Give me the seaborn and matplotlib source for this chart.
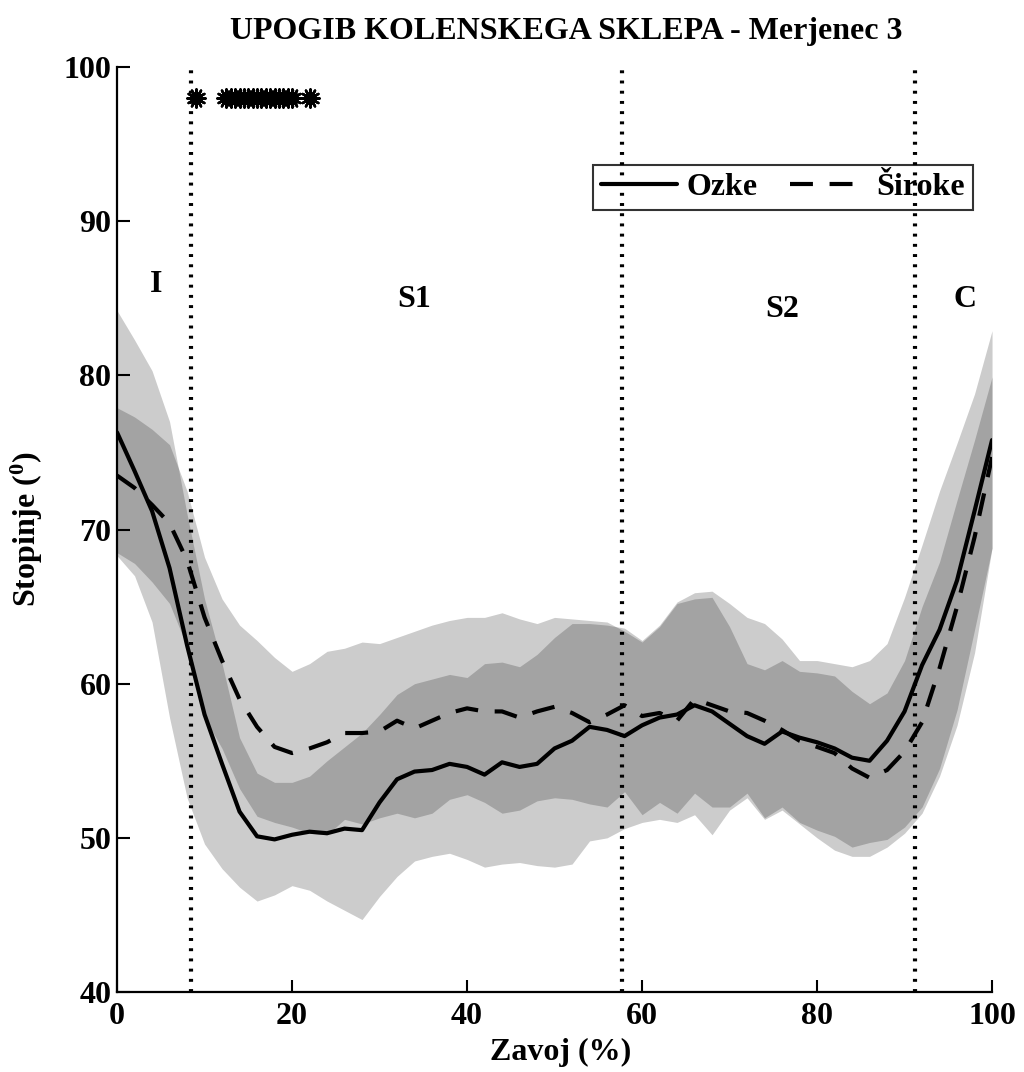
import numpy as np
import pandas as pd
import matplotlib
matplotlib.use("Agg")
import matplotlib.pyplot as plt
from matplotlib.lines import Line2D
import seaborn as sns

sns.set_theme(style="ticks", rc={
    "axes.edgecolor": "black", "text.color": "black", "axes.labelcolor": "black",
    "xtick.color": "black", "ytick.color": "black",
})
plt.rcParams["font.family"] = ["Liberation Serif", "DejaVu Serif"]
plt.rcParams["font.weight"] = "bold"
plt.rcParams["mathtext.fontset"] = "custom"
plt.rcParams["mathtext.rm"] = "Liberation Serif:bold"
plt.rcParams["mathtext.it"] = "Liberation Serif:bold"
plt.rcParams["mathtext.bf"] = "Liberation Serif:bold"

# gait cycle (%) sampling grid
cycle = np.arange(0, 101, 2)

# mean knee flexion (degrees)
ozke_mean = [76.3, 73.8, 71.2, 67.5, 62.5, 58.0, 54.8, 51.7, 50.1, 49.9,
             50.2, 50.4, 50.3, 50.6, 50.5, 52.3, 53.8, 54.3, 54.4, 54.8,
             54.6, 54.1, 54.9, 54.6, 54.8, 55.8, 56.3, 57.2, 57.0, 56.6,
             57.3, 57.8, 58.0, 58.6, 58.2, 57.4, 56.6, 56.1, 56.9, 56.5,
             56.2, 55.8, 55.2, 55.0, 56.3, 58.2, 61.2, 63.5, 66.7, 71.2,
             75.8]
siroke_mean = [73.5, 72.7, 71.6, 70.4, 68.0, 64.3, 61.5, 59.0, 57.2, 55.9,
               55.5, 55.8, 56.2, 56.8, 56.8, 56.9, 57.6, 57.1, 57.6, 58.1,
               58.4, 58.2, 58.2, 57.8, 58.2, 58.5, 58.1, 57.5, 58.0, 58.6,
               57.9, 58.1, 57.6, 59.0, 58.6, 58.2, 58.1, 57.6, 57.0, 56.3,
               55.9, 55.5, 54.5, 53.9, 54.4, 55.6, 57.5, 61.0, 65.0, 69.5,
               74.7]

# +/- one standard deviation envelopes
ozke_hi = [84.2, 82.3, 80.3, 77.0, 71.0, 65.5, 61.3, 56.5, 54.2, 53.6,
           53.6, 54.0, 55.0, 55.9, 56.8, 58.0, 59.3, 60.0, 60.3, 60.6,
           60.4, 61.3, 61.4, 61.1, 61.9, 63.0, 63.9, 63.9, 63.8, 63.6,
           62.8, 63.8, 65.3, 65.9, 66.0, 65.2, 64.3, 63.9, 62.9, 61.5,
           61.5, 61.3, 61.1, 61.5, 62.6, 65.6, 69.0, 72.5, 75.6, 78.8,
           82.9]
ozke_lo = [68.3, 67.0, 64.0, 57.8, 52.6, 49.6, 48.0, 46.8, 45.9, 46.3,
           46.9, 46.6, 45.9, 45.3, 44.7, 46.2, 47.5, 48.5, 48.8, 49.0,
           48.6, 48.1, 48.3, 48.4, 48.2, 48.1, 48.3, 49.8, 50.0, 50.6,
           51.0, 51.2, 51.0, 51.5, 50.2, 51.8, 52.6, 51.2, 51.8, 50.9,
           50.0, 49.2, 48.8, 48.8, 49.4, 50.3, 51.6, 54.0, 57.3, 62.0,
           68.8]
siroke_hi = [77.9, 77.3, 76.5, 75.5, 72.5, 68.2, 65.5, 63.8, 62.8, 61.7,
             60.8, 61.3, 62.1, 62.3, 62.7, 62.6, 63.0, 63.4, 63.8, 64.1,
             64.3, 64.3, 64.6, 64.2, 63.9, 64.3, 64.2, 64.1, 64.0, 63.4,
             62.7, 63.7, 65.2, 65.5, 65.6, 63.7, 61.3, 60.9, 61.5, 60.8,
             60.7, 60.5, 59.5, 58.7, 59.4, 61.5, 65.0, 67.9, 71.9, 75.8,
             79.9]
siroke_lo = [68.5, 67.8, 66.6, 65.2, 62.4, 57.8, 55.8, 53.2, 51.4, 51.0,
             50.7, 50.3, 50.2, 51.2, 50.9, 51.3, 51.6, 51.3, 51.6, 52.5,
             52.8, 52.3, 51.6, 51.8, 52.4, 52.6, 52.5, 52.2, 52.0, 53.0,
             51.5, 52.3, 51.6, 52.9, 52.0, 52.0, 52.9, 51.3, 52.0, 51.0,
             50.5, 50.1, 49.4, 49.7, 49.9, 50.7, 52.0, 54.5, 58.3, 63.5,
             68.8]

# phase boundaries and names
phase_bounds = [8.5, 57.7, 91.2]
phase_names = ["I", "S1", "S2", "C"]
phase_name_x = [4.5, 34.0, 76.0, 96.9]
phase_name_y = [85.9, 84.9, 84.3, 84.9]

# cycle points with a significant difference between groups
signif_x = [9.0, 12.5, 13.0, 13.5, 14.0, 14.5, 15.0, 15.5, 16.0, 16.5,
            17.0, 17.5, 18.0, 18.5, 19.0, 19.5, 20.0, 22.0]
signif_level = 98

groups = ["Ozke", "Široke"]
dash_pattern = (5.5, 4)

long_df = pd.DataFrame({
    "cycle": np.concatenate([cycle, cycle]),
    "angle": np.concatenate([ozke_mean, siroke_mean]),
    "group": np.repeat(groups, len(cycle)),
})

fig = plt.figure(figsize=(10.24, 10.72), dpi=100)
ax = fig.add_axes([0.1143, 0.0746, 0.8545, 0.8629])

ax.fill_between(cycle, ozke_lo, ozke_hi, color="black", alpha=0.2, lw=0, zorder=1)
ax.fill_between(cycle, siroke_lo, siroke_hi, color="black", alpha=0.2, lw=0, zorder=1)

for xb in phase_bounds:
    ax.axvline(xb, color="black", lw=3, linestyle=(0, (0.7, 1.75)), zorder=2)

sns.lineplot(data=long_df, x="cycle", y="angle", style="group",
             dashes={"Ozke": "", "Široke": dash_pattern}, color="black", lw=3,
             estimator=None, errorbar=None, legend=False, ax=ax, zorder=3)

sns.scatterplot(x=signif_x, y=[signif_level] * len(signif_x), marker=(12, 2, 0),
                s=170, color="black", edgecolor="black", linewidth=1.8,
                legend=False, ax=ax, zorder=4)

for name, px, py in zip(phase_names, phase_name_x, phase_name_y):
    ax.text(px, py, name, ha="center", va="center", fontsize=23, fontweight="bold")

ax.set_xlim(0, 100)
ax.set_ylim(40, 100)
ax.set_xticks(range(0, 101, 20))
ax.set_yticks(range(40, 101, 10))
ax.tick_params(direction="in", length=9, width=1.5, labelsize=23)
ax.tick_params(axis="x", pad=7)
ax.tick_params(axis="y", pad=4)
sns.despine(ax=ax)
for side in ("left", "bottom"):
    ax.spines[side].set_linewidth(1.6)

ax.set_xlabel("Zavoj (%)", fontsize=23, fontweight="bold", va="center")
ax.xaxis.set_label_coords(0.507, -0.065)
ax.set_ylabel(r"Stopinje ($^0$)", fontsize=23, fontweight="bold", va="center")
ax.yaxis.set_label_coords(-0.103, 0.5)

handles = [Line2D([], [], color="black", lw=3),
           Line2D([], [], color="black", lw=3, dashes=dash_pattern)]
leg = ax.legend(handles, groups, ncol=2, loc="upper right",
                bbox_to_anchor=(0.978, 0.894), frameon=True, fancybox=False,
                edgecolor="black", facecolor="none", fontsize=23,
                handlelength=2.4, handletextpad=0.3, columnspacing=1.0,
                borderpad=0.25, borderaxespad=0)
leg.get_frame().set_linewidth(1.5)

fig.text(0.553, 1 - 31 / 1072, "UPOGIB KOLENSKEGA SKLEPA - Merjenec 3",
         ha="center", va="center", fontsize=23, fontweight="bold")

fig.savefig("out.png", dpi=100)
